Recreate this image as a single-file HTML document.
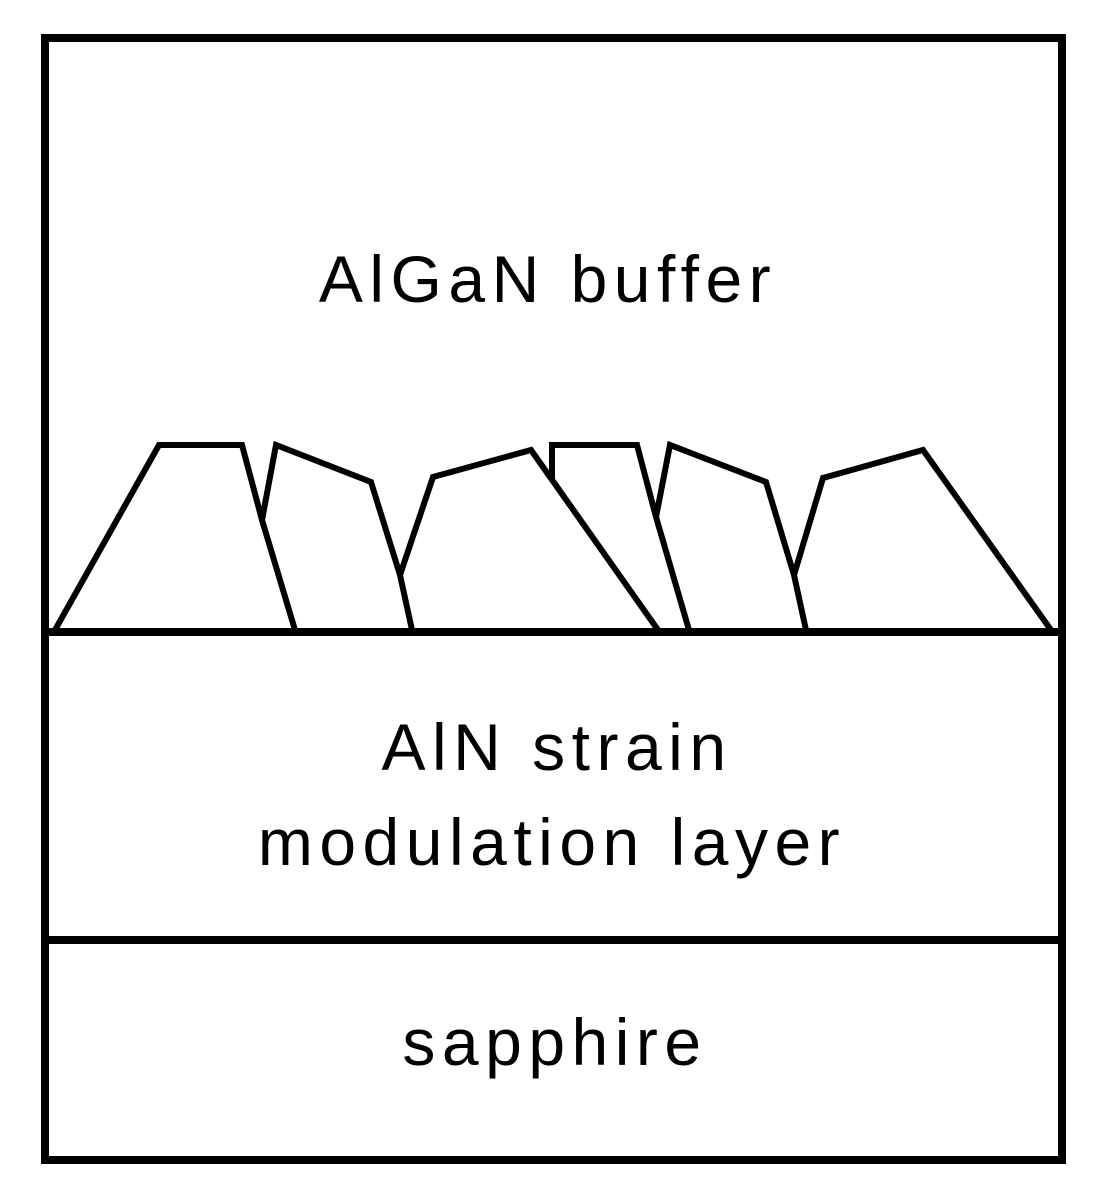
<!DOCTYPE html>
<html><head><meta charset="utf-8"><style>
html,body{margin:0;padding:0;background:#fff;}
svg{display:block;}
text{font-family:"Liberation Sans",Arial,sans-serif;font-size:66px;letter-spacing:6.5px;fill:#000;}
</style></head><body>
<svg width="1108" height="1197" viewBox="0 0 1108 1197" xmlns="http://www.w3.org/2000/svg">
<rect x="45" y="38" width="1017" height="1122" fill="none" stroke="#000" stroke-width="8"/>
<line x1="45" y1="632" x2="1062" y2="632" stroke="#000" stroke-width="8"/>
<line x1="45" y1="940" x2="1062" y2="940" stroke="#000" stroke-width="8"/>
<g fill="none" stroke="#000" stroke-width="6" stroke-linejoin="miter">
<polyline points="55,630 159,445 242,445 262,520 295,630"/>
<polyline points="262,520 276,445 371,482 400,575 412,630"/>
<polyline points="400,575 433,477 531,450 658,630"/>
<polyline points="552,480 552,445 637,445 656,517 689,630"/>
<polyline points="656,517 670,445 766,482 794,575 806,630"/>
<polyline points="794,575 823,478 923,450 1051,630"/>
</g>
<text x="548" y="302" text-anchor="middle">AlGaN buffer</text>
<text x="557" y="770" text-anchor="middle">AlN strain</text>
<text x="552" y="865" text-anchor="middle">modulation layer</text>
<text x="555" y="1065" text-anchor="middle">sapphire</text>
</svg>
</body></html>
